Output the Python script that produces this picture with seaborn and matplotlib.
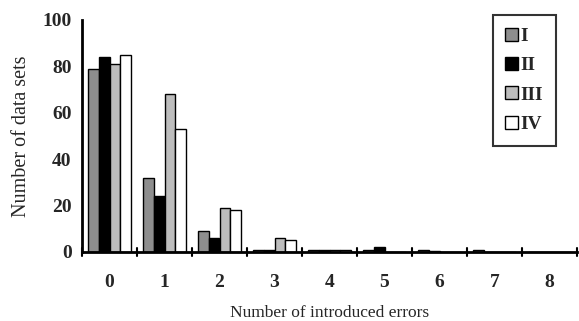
import matplotlib
matplotlib.use("Agg")
import matplotlib.pyplot as plt
import seaborn as sns
import pandas as pd
from matplotlib.patches import Patch

errors = ["0", "1", "2", "3", "4", "5", "6", "7", "8"]
series_names = ["I", "II", "III", "IV"]
vals_I = [79, 32, 9, 1, 1, 1, 1, 1, 0]
vals_II = [84, 24, 6, 1, 1, 2, 0.5, 0, 0]
vals_III = [81, 68, 19, 6, 1, 0, 0, 0, 0]
vals_IV = [85, 53, 18, 5, 1, 0, 0, 0, 0]
y_ticks = [0, 20, 40, 60, 80, 100]
colors = ["#8e8e8e", "#000000", "#bdbdbd", "#ffffff"]

rows = []
for name, vals in zip(series_names, [vals_I, vals_II, vals_III, vals_IV]):
    for e, v in zip(errors, vals):
        rows.append({"errors": e, "count": v, "type": name})
df = pd.DataFrame(rows)

sns.set_theme(style="white")
plt.rcParams["font.family"] = ["Liberation Serif", "DejaVu Serif"]

fig = plt.figure(figsize=(5.79, 3.21), dpi=100)
ax = fig.add_axes([82 / 579, 1 - 252 / 321, 495 / 579, 232 / 321])

sns.barplot(data=df, x="errors", y="count", hue="type", order=errors,
            hue_order=series_names, palette=colors, edgecolor="black",
            linewidth=1.0, width=0.78, ax=ax, legend=False)

ax.set_xlim(-0.5, 8.5)
ax.set_ylim(0, 100)
ax.set_yticks(y_ticks)
ax.set_yticklabels([str(t) for t in y_ticks], fontsize=14, fontweight="bold")
ax.set_xticks(range(len(errors)))
ax.set_xticklabels(errors, fontsize=14, fontweight="bold")
ax.tick_params(axis="x", length=0, pad=16)
ax.tick_params(axis="y", direction="inout", length=7, width=1.5, pad=4)
for b in [i - 0.5 for i in range(len(errors) + 1)]:
    ax.plot([b, b], [-1.7, 1.7], color="black", lw=1.5, clip_on=False, zorder=5)

for s in ["top", "right"]:
    ax.spines[s].set_visible(False)
for s in ["left", "bottom"]:
    ax.spines[s].set_linewidth(2)
    ax.spines[s].set_color("black")

ax.set_xlabel("Number of introduced errors", fontsize=12.5, labelpad=10)
ax.set_ylabel("Number of data sets", fontsize=14.5, labelpad=8)

handles = [Patch(facecolor=c, edgecolor="black", linewidth=1) for c in colors]
leg = ax.legend(handles, series_names, loc="upper right",
                bbox_to_anchor=(556 / 579, 1 - 15 / 321), bbox_transform=fig.transFigure,
                frameon=True, fancybox=False, handlelength=0.65, handleheight=0.65,
                handletextpad=0.15, labelspacing=0.62, borderpad=0.65, borderaxespad=0,
                prop={"family": "Liberation Serif", "weight": "bold", "size": 14})
leg.get_frame().set_edgecolor("black")
leg.get_frame().set_linewidth(1.5)

fig.savefig("out.png", dpi=100)
